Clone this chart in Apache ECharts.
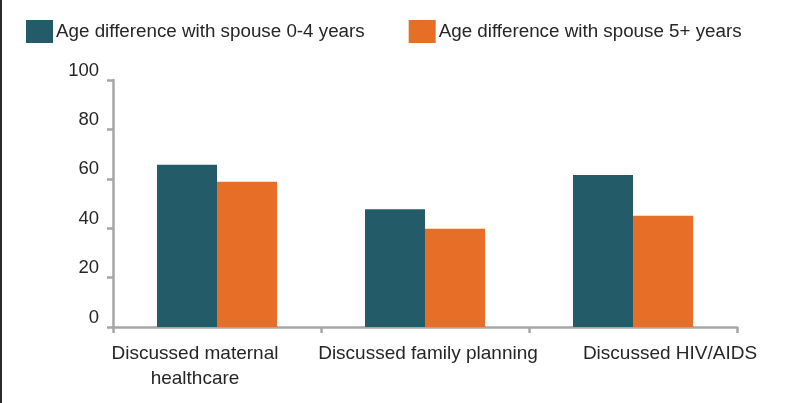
<!DOCTYPE html>
<html>
<head>
<meta charset="utf-8">
<script src="https://cdn.jsdelivr.net/npm/echarts@6/dist/echarts.min.js"></script>
<style>html,body{margin:0;padding:0;background:#fff}#c{width:787px;height:403px}</style>
</head>
<body>
<div id="c"></div>
<script>
const categories = ['Discussed maternal\nhealthcare', 'Discussed family planning', 'Discussed HIV/AIDS'];
const seriesNames = ['Age difference with spouse 0-4 years', 'Age difference with spouse 5+ years'];
const values04 = [65.7, 47.7, 61.5];
const values5p = [58.8, 39.8, 45.0];
const yTicks = [0, 20, 40, 60, 80, 100];

const FONT = "'Liberation Sans', Arial, sans-serif";
const TXT = '#262626';
// horizontal label shifts (layout only)
const labelPads = [[0, 44, 0, 0], [0, 0, 0, 6], [0, 0, 0, 74]];
const rich = {};
labelPads.forEach((p, i) => {
  rich['c' + i] = {fontFamily: FONT, fontSize: 19, color: TXT, padding: p, lineHeight: 25, align: 'center'};
});

const chart = echarts.init(document.getElementById('c'), null, {renderer: 'canvas'});
chart.setOption({
  animation: false,
  backgroundColor: '#fff',
  textStyle: {fontFamily: FONT},
  graphic: [{type: 'rect', shape: {x: 0, y: 0, width: 2, height: 403}, style: {fill: '#2b2b2b'}}],
  legend: {
    left: 26, top: 20, padding: 0,
    itemWidth: 27, itemHeight: 23, itemGap: 44,
    icon: 'rect',
    textStyle: {fontFamily: FONT, fontSize: 18.8, color: TXT, padding: [0, 0, 0, -2]},
    data: seriesNames
  },
  grid: {left: 113, right: 50, top: 80, bottom: 76},
  xAxis: {
    type: 'category',
    data: categories,
    axisLine: {lineStyle: {color: '#A6A6A6', width: 2.5}},
    axisTick: {show: true, length: 6, lineStyle: {color: '#A6A6A6', width: 2.5}},
    axisLabel: {
      margin: 14, interval: 0,
      formatter: (v, i) => v.split('\n').map(s => '{c' + i + '|' + s + '}').join('\n'),
      rich: rich
    }
  },
  yAxis: {
    type: 'value', min: yTicks[0], max: yTicks[yTicks.length - 1], interval: 20,
    axisLine: {show: true, lineStyle: {color: '#A6A6A6', width: 2.5}},
    axisTick: {show: true, length: 6, lineStyle: {color: '#A6A6A6', width: 2.5}},
    splitLine: {show: false},
    axisLabel: {fontFamily: FONT, fontSize: 18.5, color: TXT, margin: 14, verticalAlign: 'bottom'}
  },
  series: [
    {name: seriesNames[0], type: 'bar', data: values04, barWidth: 60, barGap: '0%', itemStyle: {color: '#235B69'}},
    {name: seriesNames[1], type: 'bar', data: values5p, barWidth: 60, barGap: '0%', itemStyle: {color: '#E66E27'}}
  ]
});
</script>
</body>
</html>
